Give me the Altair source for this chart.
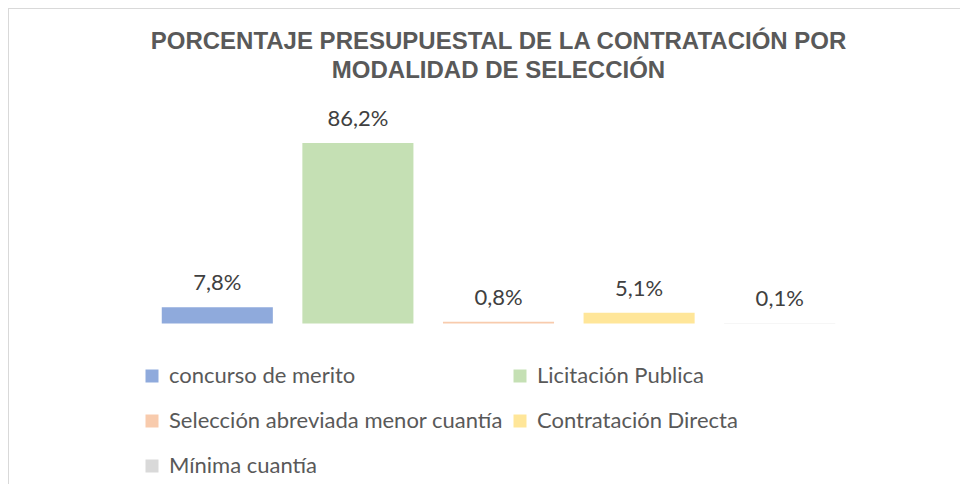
import altair as alt
import pandas as pd

categories = [
    "concurso de merito",
    "Licitación Publica",
    "Selección abreviada menor cuantía",
    "Contratación Directa",
    "Mínima cuantía",
]
values = [7.8, 86.2, 0.8, 5.1, 0.1]
colors = ["#8FAADC", "#C5E0B4", "#F8CBAD", "#FFE699", "#D9D9D9"]
title_lines = ["PORCENTAJE PRESUPUESTAL DE LA CONTRATACIÓN POR", "MODALIDAD DE SELECCIÓN"]

df = pd.DataFrame({
    "cat": categories,
    "val": values,
    "label": [f"{v:.1f}%".replace(".", ",") for v in values],
})

x_enc = alt.X("cat:N", sort=categories, axis=None,
              scale=alt.Scale(paddingInner=0.21, paddingOuter=0.105))
y_enc = alt.Y("val:Q", axis=None, scale=alt.Scale(domain=[0, 100], nice=False))

bars = alt.Chart(df).mark_bar(strokeWidth=0).encode(
    x=x_enc,
    y=y_enc,
    color=alt.Color(
        "cat:N",
        scale=alt.Scale(domain=categories, range=colors),
        legend=alt.Legend(
            title=None,
            orient="none",
            direction="horizontal",
            legendX=-6,
            legendY=251,
            columns=2,
            symbolType="square",
            symbolSize=169,
            symbolStrokeWidth=0,
            labelFont="Lato",
            labelFontSize=22,
            labelColor="#595959",
            labelOffset=6,
            labelLimit=500,
            columnPadding=6,
            rowPadding=23,
        ),
    ),
)

labels = alt.Chart(df).mark_text(
    font="Lato", fontSize=22, color="#404040", baseline="alphabetic", dy=-17
).encode(x=x_enc, y=y_enc, text="label:N")

title_df = pd.DataFrame({"t": title_lines, "line": [0, 1]})
title1 = alt.Chart(title_df).transform_filter("datum.line == 0").mark_text(
    font="Liberation Sans", fontSize=24, fontWeight="bold", color="#595959",
    baseline="alphabetic", align="center"
).encode(x=alt.value(351.5), y=alt.value(-65), text="t:N")
title2 = alt.Chart(title_df).transform_filter("datum.line == 1").mark_text(
    font="Liberation Sans", fontSize=24, fontWeight="bold", color="#595959",
    baseline="alphabetic", align="center"
).encode(x=alt.value(351.5), y=alt.value(-36), text="t:N")

border_left = alt.Chart(df).mark_rule(color="#D9D9D9", strokeWidth=1).encode(
    x=alt.value(-138.5), y=alt.value(-105.5), y2=alt.value(400)
)
border_top = alt.Chart(df).mark_rule(color="#D9D9D9", strokeWidth=1).encode(
    x=alt.value(-138.5), x2=alt.value(900), y=alt.value(-105.5)
)

chart = alt.layer(border_left, border_top, title1, title2, bars, labels).properties(
    width=703,
    height=209.5,
    autosize=alt.AutoSizeParams(type="none"),
    padding={"left": 139, "top": 106, "right": 110, "bottom": 160},
).configure_view(stroke=None)

chart.save("out.html", embed_options={"renderer": "svg", "actions": False})
